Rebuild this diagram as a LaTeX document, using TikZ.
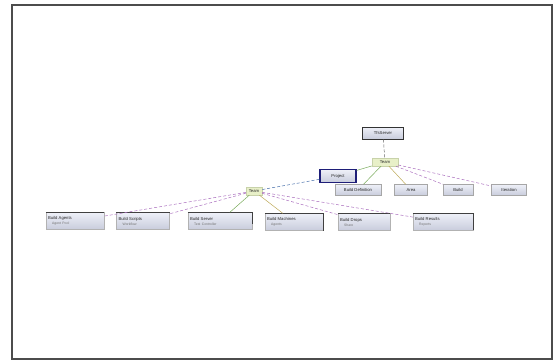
\documentclass[tikz,border=0pt]{standalone}
\usepackage{fontspec}
\setmainfont{Liberation Sans}
\definecolor{boxtop}{RGB}{238,240,248}
\definecolor{boxbot}{RGB}{200,204,220}
\definecolor{hubfill}{RGB}{232,240,200}
\definecolor{hubedge}{RGB}{200,210,170}
\definecolor{selblue}{RGB}{30,30,120}
\definecolor{linkgreen}{RGB}{120,170,90}
\definecolor{linkpurple}{RGB}{170,110,190}
\definecolor{linkgold}{RGB}{190,170,90}
\definecolor{linkblue}{RGB}{70,110,170}
\newcommand{\subline}[1]{{\fontsize{3.4}{4}\selectfont\color{black!55}#1}}
\tikzset{
  tiny/.style={font=\fontsize{4.2}{5}\selectfont, text=black!85},
  itembox/.style={tiny, draw=gray!70, top color=boxtop, bottom color=boxbot,
    minimum height=11pt, inner sep=1pt, align=center},
  leafbox/.style={tiny, draw=gray!60, top color=boxtop, bottom color=boxbot,
    minimum height=17pt, inner xsep=2pt, inner ysep=1.5pt, align=left,
    text width=#1-4pt},
  edgetop/.style={black!75, line width=1.1pt},
  hub/.style={tiny, draw=hubedge, fill=hubfill, minimum height=8pt, inner sep=1pt},
  rootbox/.style={tiny, draw=black!80, line width=1pt, top color=boxtop, bottom color=boxbot,
    minimum height=12pt, inner sep=1pt},
  selbox/.style={tiny, draw=selblue, line width=1.2pt, top color=boxtop, bottom color=boxbot,
    minimum height=13pt, inner sep=1pt},
  link/.style={line width=0.5pt, dash pattern=on 3pt off 2pt},
  solidlink/.style={line width=0.5pt},
}
\begin{document}
\begin{tikzpicture}[x=1pt,y=-1pt]
\useasboundingbox (0,0) rectangle (555,362);
% page frame
\draw[black!70, line width=1.2pt] (12,5) rectangle (552,359);

% top levels
\node[rootbox, minimum width=41pt] (root) at (383,133) {TfsServer};
\node[hub, minimum width=26pt] (team) at (385,162) {Team};
\node[selbox, minimum width=36pt] (proj) at (338,176) {Project};

% second row
\node[itembox, minimum width=46pt] (c1) at (358,190) {Build Definition};
\node[itembox, minimum width=33pt] (c2) at (411,190) {Area};
\node[itembox, minimum width=30pt] (c3) at (458,190) {Build};
\node[itembox, minimum width=35pt] (c4) at (509,190) {Iteration};

% left hub
\node[hub, minimum width=16pt] (hub) at (254,191) {Team};

% bottom row
\node[leafbox=58pt] (b1) at (75,221) {Build Agents\\\quad\subline{Agent Pool}};
\node[leafbox=53pt] (b2) at (143,221) {Build Scripts\\\quad\subline{Workflow}};
\node[leafbox=64pt] (b3) at (220,221) {Build Server\\\quad\subline{Test Controller}};
\node[leafbox=58pt] (b4) at (294,222) {Build Machines\\\quad\subline{Agents}};
\node[leafbox=52pt] (b5) at (364,222) {Build Drops\\\quad\subline{Share}};
\node[leafbox=60pt] (b6) at (443,222) {Build Results\\\quad\subline{Reports}};

% dark top edges of the bottom row
\foreach \b in {b1,b2,b3,b4,b5,b6}
  \draw[edgetop] (\b.north west) -- (\b.north east);
% raised right edges
\draw[edgetop] (b3.north east) -- ([yshift=6pt]b3.south east);
\draw[edgetop] (b6.north east) -- ([yshift=1pt]b6.south east);
\draw[edgetop] (b4.north east) -- (b4.south east);

% connectors
\draw[link, black!60] (root) -- (team);
\draw[solidlink, linkgreen] (team) -- (proj);
\draw[solidlink, linkgreen] (team) -- (c1);
\draw[solidlink, linkgold] (team) -- (c2);
\draw[link, linkpurple] (team) -- (c3);
\draw[link, linkpurple] (team) -- (c4);
\draw[link, linkblue] (proj) -- (hub);

\draw[link, linkpurple] (hub) -- (b1);
\draw[link, linkpurple] (hub) -- (b2);
\draw[solidlink, linkgreen] (hub) -- (b3);
\draw[solidlink, linkgold] (hub) -- (b4);
\draw[link, linkpurple] (hub) -- (b5);
\draw[link, linkpurple] (hub) -- (b6);
\end{tikzpicture}
\end{document}
